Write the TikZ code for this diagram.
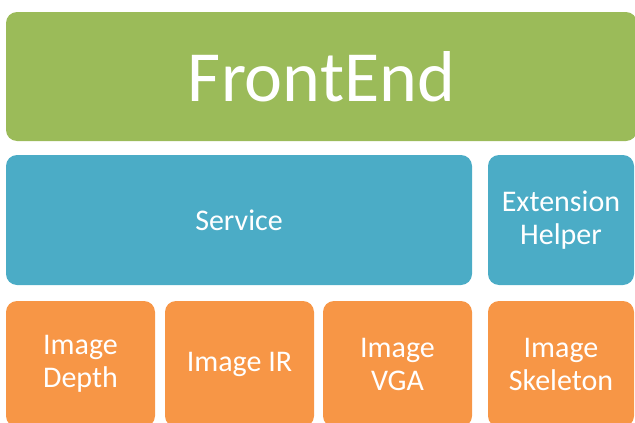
\documentclass[tikz,border=0pt]{standalone}
\usepackage{fontspec}
\setmainfont{Carlito}
\usepackage{tikz}
\usetikzlibrary{positioning}
\definecolor{fegreen}{RGB}{155,187,89}
\definecolor{svblue}{RGB}{75,172,198}
\definecolor{imgorange}{RGB}{247,150,70}

\begin{document}
\begin{tikzpicture}[
  x=1pt, y=-1pt,
  layer/.style={rectangle, rounded corners=11pt, inner sep=0pt, align=center, text=white},
  big/.style={layer, font=\fontsize{72}{80}\selectfont},
  small/.style={layer, font=\fontsize{30}{33}\selectfont}
]
\useasboundingbox (0,0) rectangle (635,423);
\clip (0,0) rectangle (635,423);

% Top layer
\node[big, fill=fegreen, minimum width=631pt, minimum height=129pt] (frontend) at (321.5,76.5) {FrontEnd};

% Middle layer
\node[small, fill=svblue, minimum width=466pt, minimum height=130pt] (service) at (239,220) {Service};
\node[small, fill=svblue, minimum width=146pt, minimum height=130pt] (helper) at (561,220) {Extension\\Helper};

% Image layer
\node[small, fill=imgorange, minimum width=149pt, minimum height=126pt] (depth) at (80.5,364) {Image\\Depth};
\node[small, fill=imgorange, minimum width=149pt, minimum height=126pt] (ir) at (239.5,364) {Image IR};
\node[small, fill=imgorange, minimum width=149pt, minimum height=126pt] (vga) at (397.5,364) {Image\\VGA};
\node[small, fill=imgorange, minimum width=146pt, minimum height=126pt] (skeleton) at (561,364) {Image\\Skeleton};

\end{tikzpicture}
\end{document}
